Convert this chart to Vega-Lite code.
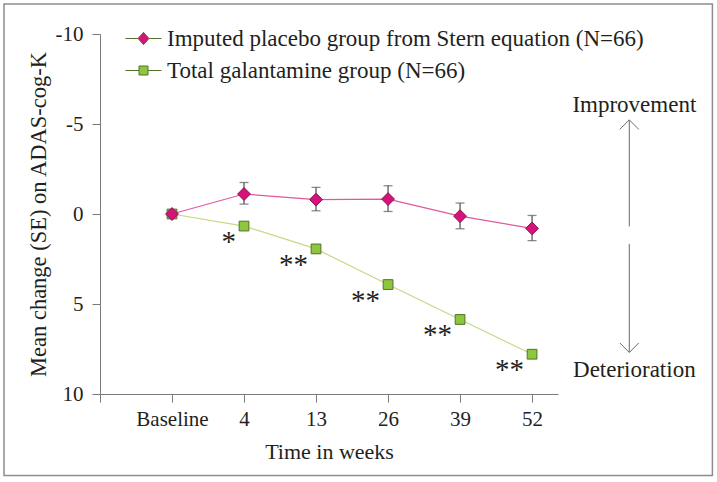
{
  "$schema": "https://vega.github.io/schema/vega-lite/v6.json",
  "width": 458,
  "height": 360,
  "autosize": {"type": "none"},
  "padding": {"left": 100, "top": 34, "right": 159, "bottom": 88},
  "background": "white",
  "config": {"view": {"stroke": null}, "font": "Liberation Serif"},
  "datasets": {
    "series": [
      {"group": "Imputed placebo group from Stern equation (N=66)", "visit": 1, "change": 0.0, "lo": null, "hi": null, "sig": ""},
      {"group": "Imputed placebo group from Stern equation (N=66)", "visit": 2, "change": -1.11, "lo": -1.75, "hi": -0.55, "sig": ""},
      {"group": "Imputed placebo group from Stern equation (N=66)", "visit": 3, "change": -0.8, "lo": -1.48, "hi": -0.18, "sig": ""},
      {"group": "Imputed placebo group from Stern equation (N=66)", "visit": 4, "change": -0.83, "lo": -1.57, "hi": -0.14, "sig": ""},
      {"group": "Imputed placebo group from Stern equation (N=66)", "visit": 5, "change": 0.12, "lo": -0.61, "hi": 0.82, "sig": ""},
      {"group": "Imputed placebo group from Stern equation (N=66)", "visit": 6, "change": 0.8, "lo": 0.08, "hi": 1.48, "sig": ""},
      {"group": "Total galantamine group (N=66)", "visit": 1, "change": 0.0, "lo": null, "hi": null, "sig": ""},
      {"group": "Total galantamine group (N=66)", "visit": 2, "change": 0.67, "lo": null, "hi": null, "sig": "*"},
      {"group": "Total galantamine group (N=66)", "visit": 3, "change": 1.94, "lo": null, "hi": null, "sig": "**"},
      {"group": "Total galantamine group (N=66)", "visit": 4, "change": 3.92, "lo": null, "hi": null, "sig": "**"},
      {"group": "Total galantamine group (N=66)", "visit": 5, "change": 5.86, "lo": null, "hi": null, "sig": "**"},
      {"group": "Total galantamine group (N=66)", "visit": 6, "change": 7.79, "lo": null, "hi": null, "sig": "**"}
    ],
    "notes": [
      {"note": "Improvement"},
      {"note": "Deterioration"}
    ]
  },
  "layer": [
    {
      "data": {"name": "series"},
      "transform": [{"filter": "indexof(datum.group, 'galantamine') > 0"}],
      "mark": {"type": "line", "strokeWidth": 1.2, "color": "#c3da86"},
      "encoding": {
        "x": {
          "field": "visit", "type": "quantitative",
          "scale": {"domain": [0, 6.36], "nice": false, "zero": false},
          "axis": {
            "values": [0, 1, 2, 3, 4, 5, 6],
            "labelExpr": "['', 'Baseline', '4', '13', '26', '39', '52'][datum.value]",
            "title": "Time in weeks",
            "grid": false,
            "domainColor": "#7a7a7a", "tickColor": "#7a7a7a", "tickSize": 8,
            "labelFont": "Liberation Serif", "labelFontSize": 21, "labelColor": "#231f20", "labelPadding": 6,
            "labelFlush": false, "labelOverlap": false,
            "titleFont": "Liberation Serif", "titleFontSize": 22, "titleFontWeight": "normal", "titleColor": "#231f20", "titlePadding": 12
          }
        },
        "y": {
          "field": "change", "type": "quantitative",
          "scale": {"domain": [-10, 10], "reverse": true, "nice": false, "zero": false},
          "axis": {
            "values": [-10, -5, 0, 5, 10],
            "labelExpr": "datum.value < 0 ? '-' + abs(datum.value) : '' + datum.value",
            "title": "Mean change (SE) on ADAS-cog-K",
            "grid": false,
            "domainColor": "#7a7a7a", "tickColor": "#7a7a7a", "tickSize": 8,
            "labelFont": "Liberation Serif", "labelFontSize": 21, "labelColor": "#231f20", "labelPadding": 9,
            "labelFlush": false, "labelOverlap": false,
            "titleFont": "Liberation Serif", "titleFontSize": 22.5, "titleFontWeight": "normal", "titleColor": "#231f20", "titlePadding": 5
          }
        }
      }
    },
    {
      "data": {"name": "series"},
      "transform": [{"filter": "indexof(datum.group, 'placebo') > 0"}],
      "mark": {"type": "line", "strokeWidth": 1.2, "color": "#e2579d"},
      "encoding": {
        "x": {"field": "visit", "type": "quantitative"},
        "y": {"field": "change", "type": "quantitative"}
      }
    },
    {
      "data": {"name": "series"},
      "mark": {"type": "rect", "fillOpacity": 0, "stroke": "#8c8c8c", "strokeWidth": 1.5},
      "encoding": {
        "x": {"datum": -1.333, "type": "quantitative"},
        "x2": {"datum": 8.504},
        "y": {"datum": -11.66, "type": "quantitative"},
        "y2": {"datum": 14.53}
      },
      "transform": [{"filter": "datum.visit === 1 && indexof(datum.group, 'placebo') > 0"}]
    },
    {
      "data": {"name": "series"},
      "transform": [{"filter": "isValid(datum.lo)"}],
      "mark": {"type": "rule", "color": "#5a5a5a", "strokeWidth": 1.3},
      "encoding": {
        "x": {"field": "visit", "type": "quantitative"},
        "y": {"field": "lo", "type": "quantitative"},
        "y2": {"field": "hi"}
      }
    },
    {
      "data": {"name": "series"},
      "transform": [{"filter": "isValid(datum.lo)"}],
      "mark": {"type": "tick", "orient": "horizontal", "color": "#5a5a5a", "size": 9, "thickness": 1.3},
      "encoding": {
        "x": {"field": "visit", "type": "quantitative"},
        "y": {"field": "lo", "type": "quantitative"}
      }
    },
    {
      "data": {"name": "series"},
      "transform": [{"filter": "isValid(datum.hi)"}],
      "mark": {"type": "tick", "orient": "horizontal", "color": "#5a5a5a", "size": 9, "thickness": 1.3},
      "encoding": {
        "x": {"field": "visit", "type": "quantitative"},
        "y": {"field": "hi", "type": "quantitative"}
      }
    },
    {
      "data": {"name": "series"},
      "transform": [{"filter": "indexof(datum.group, 'galantamine') > 0"}],
      "mark": {"type": "point", "shape": "square", "filled": true, "opacity": 1, "stroke": "#56702a", "strokeWidth": 1, "size": 95},
      "encoding": {
        "x": {"field": "visit", "type": "quantitative"},
        "y": {"field": "change", "type": "quantitative"},
        "fill": {
          "field": "group", "type": "nominal",
          "scale": {"domain": ["Imputed placebo group from Stern equation (N=66)", "Total galantamine group (N=66)"], "range": ["#d6137b", "#8dc63f"]}
        }
      }
    },
    {
      "data": {"name": "series"},
      "transform": [{"filter": "indexof(datum.group, 'placebo') > 0"}],
      "mark": {"type": "point", "shape": "diamond", "filled": true, "opacity": 1, "stroke": "#8a1350", "strokeWidth": 1, "size": 165},
      "encoding": {
        "x": {"field": "visit", "type": "quantitative"},
        "y": {"field": "change", "type": "quantitative"},
        "fill": {"field": "group", "type": "nominal"}
      }
    },
    {
      "data": {"name": "series"},
      "transform": [{"filter": "datum.visit === 1"}],
      "mark": {"type": "point", "filled": true, "size": 0, "strokeWidth": 0},
      "encoding": {
        "x": {"field": "visit", "type": "quantitative"},
        "y": {"field": "change", "type": "quantitative"},
        "fill": {
          "field": "group", "type": "nominal",
          "legend": {
            "orient": "none", "legendX": 32, "legendY": -7,
            "title": null, "padding": 0,
            "labelFont": "Liberation Serif", "labelFontSize": 23, "labelColor": "#231f20", "labelOffset": 12,
            "symbolSize": 400, "symbolStrokeWidth": 1, "symbolStrokeColor": "#5e4a55", "symbolOpacity": 1,
            "rowPadding": 8, "labelLimit": 600
          }
        },
        "shape": {
          "field": "group", "type": "nominal",
          "scale": {
            "domain": ["Imputed placebo group from Stern equation (N=66)", "Total galantamine group (N=66)"],
            "range": ["M-1.8,0H-0.55M0.55,0H1.8M0,-0.62L0.55,0L0,0.62L-0.55,0Z", "M-1.8,0H-0.45M0.45,0H1.8M-0.45,-0.45H0.45V0.45H-0.45Z"]
          },
          "legend": {
            "orient": "none", "legendX": 32, "legendY": -7,
            "title": null, "padding": 0,
            "labelFont": "Liberation Serif", "labelFontSize": 23, "labelColor": "#231f20", "labelOffset": 12,
            "symbolSize": 400, "symbolStrokeWidth": 1, "symbolStrokeColor": "#5e4a55", "symbolOpacity": 1,
            "rowPadding": 8, "labelLimit": 600
          }
        }
      }
    },
    {
      "data": {"name": "series"},
      "transform": [{"filter": "datum.sig !== ''"}],
      "mark": {"type": "text", "align": "right", "baseline": "middle", "dx": -8, "dy": 16, "font": "Liberation Serif", "fontSize": 29, "color": "#231f20"},
      "encoding": {
        "x": {"field": "visit", "type": "quantitative"},
        "y": {"field": "change", "type": "quantitative"},
        "text": {"field": "sig"}
      }
    },
    {
      "data": {"name": "notes"},
      "transform": [{"filter": "datum.note === 'Improvement'"}],
      "mark": {"type": "text", "align": "center", "baseline": "alphabetic", "font": "Liberation Serif", "fontSize": 23, "color": "#231f20"},
      "encoding": {
        "x": {"datum": 7.42, "type": "quantitative"},
        "y": {"datum": -5.68, "type": "quantitative"},
        "text": {"field": "note"}
      }
    },
    {
      "data": {"name": "notes"},
      "transform": [{"filter": "datum.note === 'Deterioration'"}],
      "mark": {"type": "text", "align": "center", "baseline": "alphabetic", "font": "Liberation Serif", "fontSize": 23, "color": "#231f20"},
      "encoding": {
        "x": {"datum": 7.42, "type": "quantitative"},
        "y": {"datum": 9.04, "type": "quantitative"},
        "text": {"field": "note"}
      }
    },
    {
      "data": {"name": "notes"},
      "transform": [{"filter": "datum.note === 'Improvement'"}],
      "mark": {"type": "rule", "color": "#6a6a6a", "strokeWidth": 1},
      "encoding": {
        "x": {"datum": 7.35, "type": "quantitative"},
        "y": {"datum": -5.23, "type": "quantitative"},
        "y2": {"datum": 0.69}
      }
    },
    {
      "data": {"name": "notes"},
      "transform": [{"filter": "datum.note === 'Deterioration'"}],
      "mark": {"type": "rule", "color": "#6a6a6a", "strokeWidth": 1},
      "encoding": {
        "x": {"datum": 7.35, "type": "quantitative"},
        "y": {"datum": 1.66, "type": "quantitative"},
        "y2": {"datum": 7.69}
      }
    },
    {
      "data": {"name": "notes"},
      "transform": [{"filter": "datum.note === 'Improvement'"}],
      "mark": {"type": "point", "shape": "M-1,1L0,0L1,1", "size": 361, "filled": false, "stroke": "#6a6a6a", "strokeWidth": 1, "opacity": 1},
      "encoding": {
        "x": {"datum": 7.35, "type": "quantitative"},
        "y": {"datum": -5.23, "type": "quantitative"}
      }
    },
    {
      "data": {"name": "notes"},
      "transform": [{"filter": "datum.note === 'Deterioration'"}],
      "mark": {"type": "point", "shape": "M-1,-1L0,0L1,-1", "size": 361, "filled": false, "stroke": "#6a6a6a", "strokeWidth": 1, "opacity": 1},
      "encoding": {
        "x": {"datum": 7.35, "type": "quantitative"},
        "y": {"datum": 7.69, "type": "quantitative"}
      }
    }
  ]
}
